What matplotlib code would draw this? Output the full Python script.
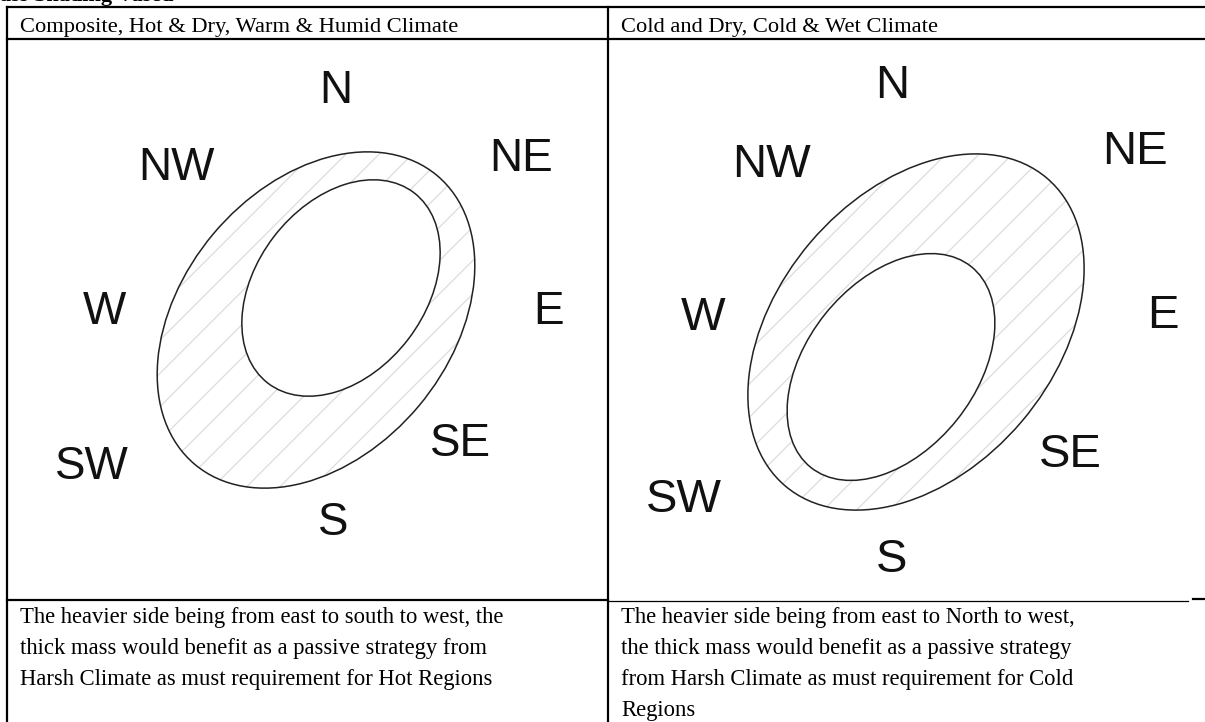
import matplotlib.pyplot as plt
from matplotlib.patches import Ellipse

# panel texts
headers = ["Composite, Hot & Dry, Warm & Humid Climate",
           "Cold and Dry, Cold & Wet Climate"]
notes = [
    ["The heavier side being from east to south to west, the",
     "thick mass would benefit as a passive strategy from",
     "Harsh Climate as must requirement for Hot Regions"],
    ["The heavier side being from east to North to west,",
     "the thick mass would benefit as a passive strategy",
     "from Harsh Climate as must requirement for Cold",
     "Regions"],
]
directions = ["N", "NW", "NE", "W", "E", "SW", "SE", "S"]

# layout (pixel coords, y down)
label_xy = [
    [(336, 91), (176, 168), (521, 159), (104, 312), (549, 312), (92, 467), (461, 444), (333, 523)],
    [(892, 86), (771, 165), (1135, 152), (703, 318), (1163, 316), (684, 500), (1070, 455), (892, 560)],
]
label_size = [33, 34]
# (cx, cy, width, height, angle) outer / inner ring
rings = [
    [(316, 320, 377, 268, -50), (341, 288, 240, 169, -52.5)],
    [(916, 332, 404, 277, -49.6), (891, 367, 257, 169, -51.4)],
]
cell_x = [20, 621]

fig = plt.figure(figsize=(12.05, 7.22), dpi=100)
ax = fig.add_axes([0, 0, 1, 1])
ax.set_xlim(0, 1205)
ax.set_ylim(722, 0)
ax.axis('off')

plt.rcParams['hatch.linewidth'] = 0.9

# table grid
lw = 1.6
ax.plot([7, 1205], [7, 7], color='black', lw=lw)
ax.plot([7, 1205], [39, 39], color='black', lw=lw)
ax.plot([7, 7], [7, 722], color='black', lw=lw)
ax.plot([608, 608], [7, 722], color='black', lw=lw)
ax.plot([7, 608], [600, 600], color='black', lw=lw)
ax.plot([608, 1188], [601, 601], color='black', lw=0.9)
ax.plot([1193, 1205], [599, 599], color='black', lw=lw)

# clipped heading above the table
ax.text(0, 1, "ass Shading Vased", fontsize=16, fontweight='bold',
        family='Liberation Serif', va='baseline', ha='left')

for i in range(2):
    ax.text(cell_x[i], 32, headers[i], fontsize=16.2, family='Liberation Serif',
            va='baseline', ha='left')
    for j, line in enumerate(notes[i]):
        ax.text(cell_x[i], 623 + j * 31, line, fontsize=16.3,
                family='Liberation Serif', va='baseline', ha='left')

    outer, inner = rings[i]
    cx, cy, w, h, ang = outer
    ax.add_patch(Ellipse((cx, cy), w, h, angle=ang, facecolor='white',
                         edgecolor='#dcdcdc', hatch='/', lw=0))
    ax.add_patch(Ellipse((cx, cy), w, h, angle=ang, fill=False,
                         edgecolor='#222222', lw=1.1))
    cx, cy, w, h, ang = inner
    ax.add_patch(Ellipse((cx, cy), w, h, angle=ang, facecolor='white',
                         edgecolor='#222222', lw=1.1))

    for name, (x, y) in zip(directions, label_xy[i]):
        ax.text(x, y, name, fontsize=label_size[i], family='Liberation Sans',
                ha='center', va='center', color='#111111')

fig.savefig('out.png', dpi=100)
